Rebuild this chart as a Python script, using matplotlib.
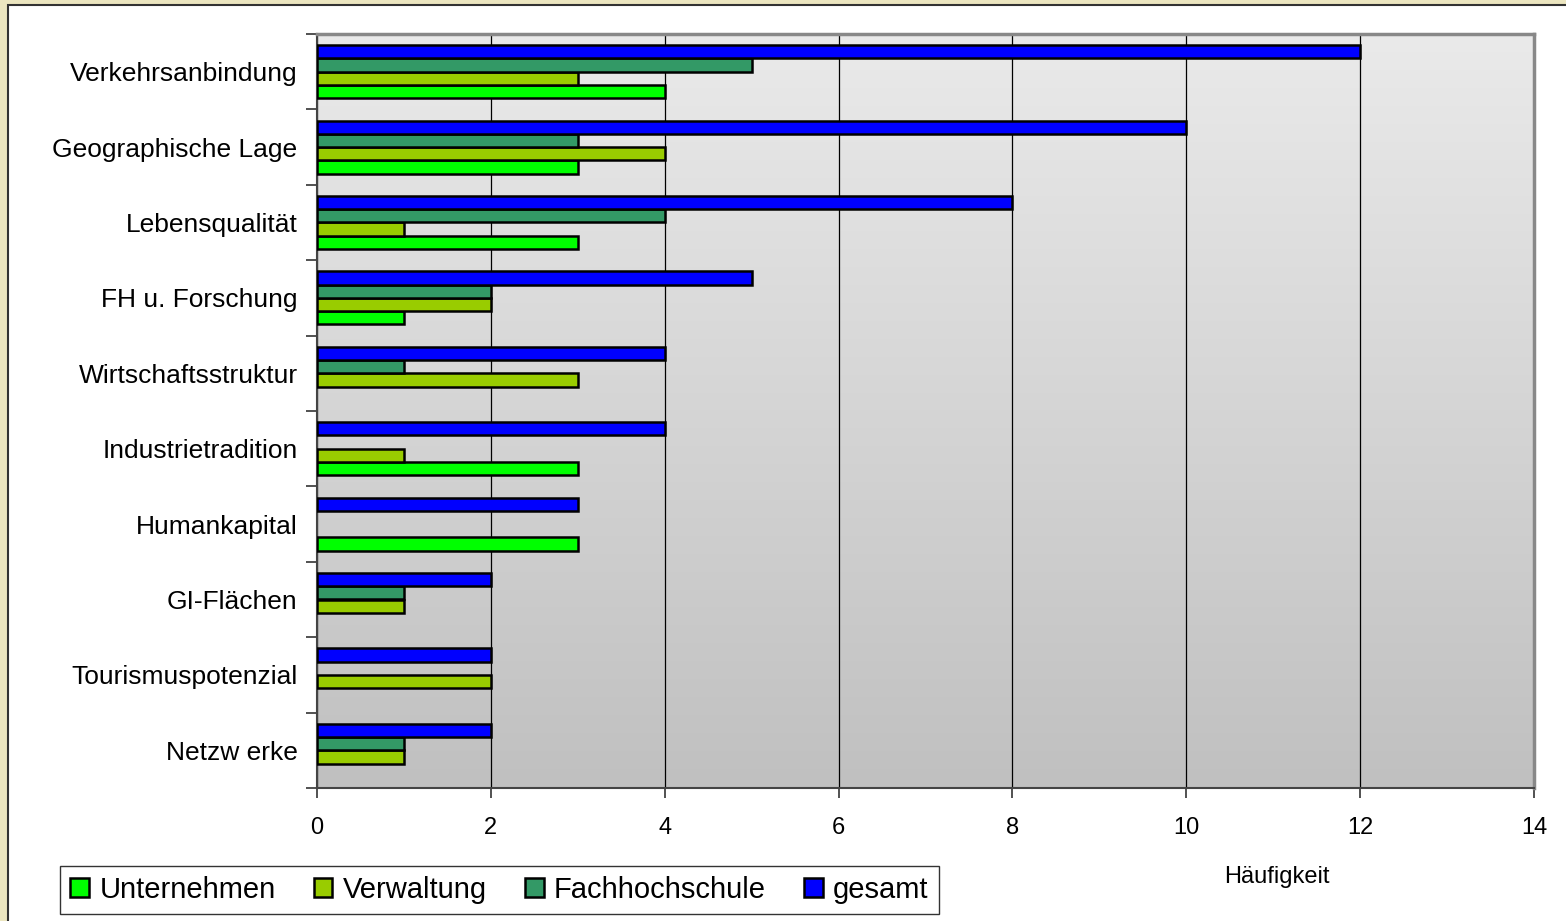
import numpy as np
import matplotlib
matplotlib.use('Agg')
from matplotlib import pyplot as plt
from matplotlib.patches import Rectangle

plt.rcParams['font.family'] = ['Liberation Sans', 'DejaVu Sans']

# data, top to bottom as shown in the chart
categories = ['Verkehrsanbindung', 'Geographische Lage', 'Lebensqualität',
              'FH u. Forschung', 'Wirtschaftsstruktur', 'Industrietradition',
              'Humankapital', 'GI-Flächen', 'Tourismuspotenzial', 'Netzw erke']
unternehmen = [4, 3, 3, 1, 0, 3, 3, 0, 0, 0]
verwaltung = [3, 4, 1, 2, 3, 1, 0, 1, 2, 1]
fachhochschule = [5, 3, 4, 2, 1, 0, 0, 1, 0, 1]
gesamt = [12, 10, 8, 5, 4, 4, 3, 2, 2, 2]

series_names = ['Unternehmen', 'Verwaltung', 'Fachhochschule', 'gesamt']
series_values = [unternehmen, verwaltung, fachhochschule, gesamt]
series_colors = ['#00FF00', '#99CC00', '#339966', '#0000FF']
x_ticks = [0, 2, 4, 6, 8, 10, 12, 14]


def rgb_to_mpl(r, g, b):
    return r/255., g/255., b/255.


fig = plt.figure(figsize=(15.66, 9.21), dpi=100)
fig.patch.set_facecolor(rgb_to_mpl(236, 230, 192))
# white chart area with dark frame (cut off at right/bottom)
fig.patches.append(Rectangle((8/1566, -0.01), 1.0, 1 - 5/921 + 0.01,
                             transform=fig.transFigure, facecolor='white',
                             edgecolor='#333333', linewidth=1.5, zorder=-5))

ax = fig.add_axes((317/1566, 1 - 788/921, (1534 - 317)/1566, (788 - 34)/921))
ax.set_zorder(1)

# gradient background
grad = np.linspace(234, 192, 256).reshape(-1, 1) / 255.
ax.imshow(np.dstack([grad, grad, grad]), extent=(0, 14, 9.5, -0.5),
          aspect='auto', zorder=0, interpolation='bilinear')

y = np.arange(len(categories))
h = 0.176
offsets = [1.5*h, 0.5*h, -0.5*h, -1.5*h]
for vals, name, col, off in zip(series_values, series_names, series_colors, offsets):
    vals = np.array(vals)
    nz = vals > 0  # zero bars are not drawn in the original
    ax.barh(y[nz] + off, vals[nz], height=h, color=col, edgecolor='black',
            linewidth=1.8, label=name, zorder=3)

ax.set_xlim(0, 14)
ax.set_ylim(9.5, -0.5)
ax.set_xticks(x_ticks)
ax.set_xticklabels([str(t) for t in x_ticks], fontsize=17)
ax.set_yticks(y)
ax.set_yticklabels(categories, fontsize=19, va='bottom')
for lbl in ax.get_yticklabels():
    lbl.set_verticalalignment('center_baseline')
ax.set_yticks(np.arange(-0.5, 10, 1), minor=True)
ax.tick_params(axis='y', which='major', length=0, pad=14)
ax.tick_params(axis='y', which='minor', length=8, width=1.2, direction='out', color='#333333')
ax.tick_params(axis='x', length=7, width=1.2, direction='out', pad=14, color='#333333')
ax.xaxis.grid(True, color='black', linewidth=0.9, zorder=1)
ax.set_axisbelow(True)

for side in ['left', 'bottom']:
    ax.spines[side].set_color('#444444')
    ax.spines[side].set_linewidth(1.5)
for side in ['top', 'right']:
    ax.spines[side].set_color('#888888')
    ax.spines[side].set_linewidth(2.5)

fig.text(1277/1566, 1 - 877/921, 'Häufigkeit', fontsize=17, ha='center', va='center')

handles, labels = ax.get_legend_handles_labels()
leg = fig.legend(handles, labels, loc='lower left', ncol=4,
                 bbox_to_anchor=(60/1566, 1 - 914/921),
                 fontsize=21, frameon=True, fancybox=False,
                 edgecolor='black', handlelength=0.65, handleheight=0.65,
                 handletextpad=0.35, columnspacing=1.3, borderpad=0.35, borderaxespad=0)
leg.get_frame().set_linewidth(1.0)

fig.savefig('out.png', dpi=100, facecolor=fig.get_facecolor())
